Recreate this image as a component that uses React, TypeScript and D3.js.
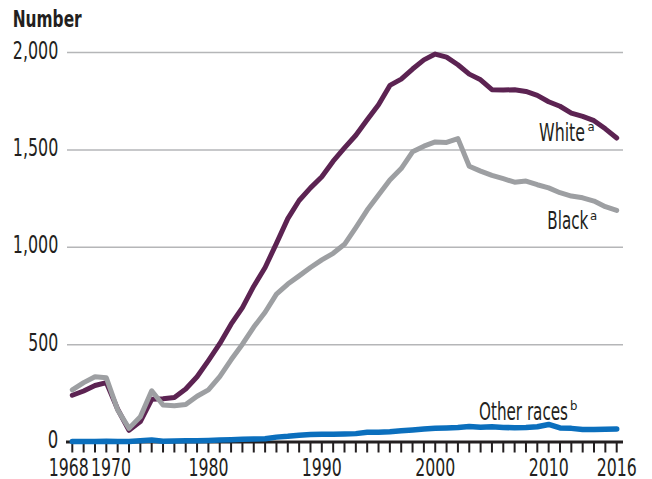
import React from "react";
import * as d3 from "d3";

const years = [
  1968, 1969, 1970, 1971, 1972, 1973, 1974, 1975, 1976, 1977, 1978, 1979,
  1980, 1981, 1982, 1983, 1984, 1985, 1986, 1987, 1988, 1989, 1990, 1991,
  1992, 1993, 1994, 1995, 1996, 1997, 1998, 1999, 2000, 2001, 2002, 2003,
  2004, 2005, 2006, 2007, 2008, 2009, 2010, 2011, 2012, 2013, 2014, 2015, 2016,
];

const white = [
  240, 262, 290, 305, 168, 60, 105, 219, 222, 229, 272, 335,
  418, 505, 605, 690, 800, 896, 1020, 1147, 1240, 1305, 1362, 1442,
  1510, 1575, 1655, 1732, 1831, 1863, 1915, 1962, 1992, 1976, 1937, 1889,
  1860, 1809, 1807, 1809, 1800, 1780, 1747, 1724, 1689, 1672, 1650, 1608, 1561,
];

const black = [
  268, 305, 335, 330, 165, 70, 130, 263, 190, 186, 192, 235,
  268, 336, 422, 502, 590, 666, 759, 811, 853, 896, 935, 969,
  1015, 1101, 1191, 1268, 1345, 1404, 1490, 1519, 1541, 1538, 1558, 1416,
  1391, 1369, 1352, 1334, 1340, 1321, 1305, 1280, 1263, 1254, 1237, 1208, 1189,
];

const other = [
  2, 2, 3, 4, 2, 3, 6, 10, 4, 5, 6, 6,
  8, 10, 12, 14, 15, 17, 25, 29, 35, 38, 40, 40,
  41, 43, 50, 50, 53, 58, 62, 67, 71, 72, 74, 80,
  76, 78, 75, 73, 74, 78, 90, 72, 70, 64, 64, 66, 67,
];

const yTicks = [0, 500, 1000, 1500, 2000];
const yTickLabels = ["0", "500", "1,000", "1,500", "2,000"];
const xLabelYears = [1968, 1970, 1980, 1990, 2000, 2010, 2016];

const FONT =
  "'Liberation Sans Narrow', 'Arial Narrow', 'DejaVu Sans Condensed', sans-serif";
const INK = "#231f20";

export default function App() {
  const W = 652;
  const H = 479;
  const x = d3.scaleLinear().domain([1968, 2016]).range([72.3, 616.7]);
  const y = d3.scaleLinear().domain([0, 2000]).range([442, 52.5]);

  const mk = (vals: number[]) =>
    d3
      .line<number>()
      .x((_, i) => x(years[i]))
      .y((v) => y(v))(vals) as string;

  const xLabelOffset = (yr: number) => (yr === 1968 ? -3.6 : yr === 1970 ? 16 : 0);
  const yLabelWidth = (s: string) => (s.length === 1 ? 10.5 : s.length === 3 ? 30 : 45.5);

  return (
    <svg
      width={W}
      height={H}
      style={{ position: "absolute", left: 0, top: 0, background: "#fff" }}
      fontFamily={FONT}
    >
      <rect x={0} y={0} width={W} height={H} fill="#fff" />
      <text x={12.7} y={27} fontSize={23} fontWeight="bold" fill={INK} textLength={69} lengthAdjust="spacingAndGlyphs">
        Number
      </text>

      {yTicks.map((t) =>
        t === 0 ? null : (
          <line key={"g" + t} x1={67} x2={623} y1={y(t)} y2={y(t)} stroke="#b5b6b8" strokeWidth={1.5} />
        )
      )}
      {yTicks.map((t, i) => (
        <text
          key={"yl" + t}
          x={58.3 - yLabelWidth(yTickLabels[i])}
          y={y(t) + 6}
          fontSize={24}
          fill={INK}
          textLength={yLabelWidth(yTickLabels[i])}
          lengthAdjust="spacingAndGlyphs"
        >
          {yTickLabels[i]}
        </text>
      ))}

      {/* x axis */}
      <line x1={66} x2={623} y1={442} y2={442} stroke={INK} strokeWidth={3} />
      {years.map((yr) => (
        <line key={"t" + yr} x1={x(yr)} x2={x(yr)} y1={442} y2={452.5} stroke={INK} strokeWidth={2} />
      ))}
      {xLabelYears.map((yr) => (
        <text
          key={"xl" + yr}
          x={x(yr) + xLabelOffset(yr)}
          y={475.5}
          fontSize={24}
          fill={INK}
          textAnchor="middle"
          textLength={40}
          lengthAdjust="spacingAndGlyphs"
        >
          {yr}
        </text>
      ))}

      <path d={mk(white)} fill="none" stroke="#5c2352" strokeWidth={5} strokeLinejoin="round" strokeLinecap="round" />
      <path d={mk(black)} fill="none" stroke="#9d9fa2" strokeWidth={5} strokeLinejoin="round" strokeLinecap="round" />
      <path d={mk(other)} fill="none" stroke="#0b6fbd" strokeWidth={5.5} strokeLinejoin="round" strokeLinecap="round" />

      <text x={539} y={140.5} fontSize={25} fill={INK} textLength={46} lengthAdjust="spacingAndGlyphs">White</text>
      <text x={587.5} y={131} fontSize={13} fill={INK}>a</text>
      <text x={547.3} y={229} fontSize={25} fill={INK} textLength={41} lengthAdjust="spacingAndGlyphs">Black</text>
      <text x={590} y={220} fontSize={13} fill={INK}>a</text>
      <text x={479} y={420} fontSize={25} fill={INK} textLength={89} lengthAdjust="spacingAndGlyphs">Other races</text>
      <text x={570} y={410} fontSize={13} fill={INK}>b</text>
    </svg>
  );
}
